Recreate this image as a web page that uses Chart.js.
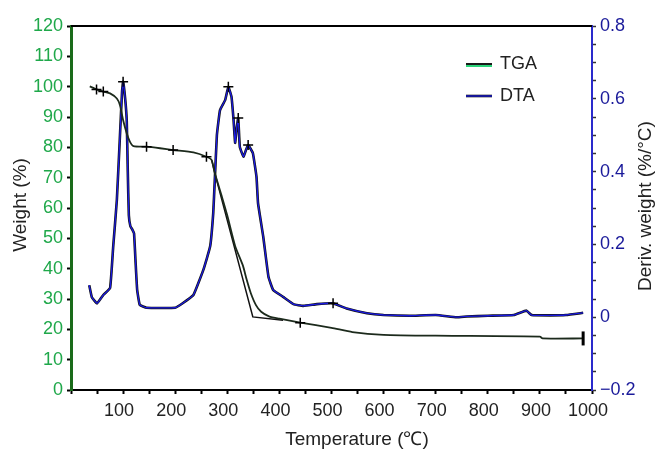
<!DOCTYPE html>
<html>
<head>
<meta charset="utf-8">
<script src="https://cdn.jsdelivr.net/npm/chart.js@4.4.8/dist/chart.umd.min.js"></script>
<style>
  html, body { margin: 0; padding: 0; background: #fff; }
  #wrap { width: 656px; height: 456px; }
</style>
</head>
<body>
<div id="wrap"><canvas id="tg" width="656" height="456"></canvas></div>
<script>
// TGA curve, weight (%) vs temperature (°C)
const tgaTemp   = [36, 49, 62, 75, 88, 94, 100, 107, 113, 120, 145, 171, 196, 235, 260, 270, 276, 290, 300, 315, 330, 337, 345, 355, 365, 380, 400, 440, 500, 540, 600, 700, 900, 905, 983];
const tgaWeight = [100.1, 99.1, 98.4, 97.8, 96.1, 93.9, 89, 84.6, 81.9, 80.4, 80.2, 79.7, 79.1, 78.3, 76.9, 75.8, 71.5, 63.5, 57.5, 47.5, 41, 36.5, 32, 28, 25.8, 24.3, 23.5, 22.2, 20.5, 19.1, 18.2, 17.9, 17.6, 17.0, 17.0];
// straight tangent segment drawn over the main mass loss step
const fitTemp   = [270, 276, 349, 407];
const fitWeight = [75.8, 71.5, 24.1, 23.0];
// DTA curve, deriv. weight (%/°C)
const dtaTemp  = [35, 40, 50, 62, 75, 81, 88, 94, 98, 100, 104, 107, 109, 111, 114, 118, 121, 124, 127, 132, 145, 200, 215, 235, 254, 267, 273, 276, 280, 286, 296, 302, 308, 312, 315, 318, 321, 324, 331, 336, 340, 349, 356, 359, 369, 379, 388, 407, 427, 446, 472, 503, 529, 568, 600, 650, 700, 740, 760, 800, 850, 874, 884, 920, 950, 983];
const dtaDeriv = [0.088, 0.055, 0.038, 0.061, 0.08, 0.194, 0.322, 0.5, 0.62, 0.647, 0.6, 0.54, 0.4, 0.28, 0.25, 0.24, 0.23, 0.15, 0.075, 0.034, 0.026, 0.026, 0.039, 0.061, 0.13, 0.194, 0.286, 0.377, 0.5, 0.569, 0.597, 0.633, 0.606, 0.542, 0.479, 0.52, 0.547, 0.468, 0.441, 0.46, 0.473, 0.451, 0.386, 0.313, 0.221, 0.111, 0.075, 0.056, 0.036, 0.031, 0.036, 0.038, 0.024, 0.011, 0.006, 0.004, 0.006, 0.0, 0.002, 0.004, 0.006, 0.018, 0.006, 0.005, 0.006, 0.012];
// temperatures marked with a '+' on each curve
const tgaMarks = [49, 62, 145, 196, 260, 440];
const dtaMarks = [100, 302, 321, 340, 503];
const tgaEnd = 983;

const FONT = '"Liberation Sans", Arial, Helvetica, sans-serif';

function pts(xs, ys) { return xs.map((x, i) => ({ x: x, y: ys[i] })); }

// draws the axis titles, top border and legend
const decor = {
  id: 'decor',
  afterDraw(chart) {
    const c = chart.ctx;
    const a = chart.chartArea;
    c.save();
    c.strokeStyle = '#000';
    c.lineWidth = 2;
    c.beginPath();
    c.moveTo(a.left, a.top);
    c.lineTo(a.right, a.top);
    c.stroke();

    c.fillStyle = '#222';
    c.font = '19px ' + FONT;
    c.textAlign = 'center';
    c.textBaseline = 'middle';
    c.fillText('Temperature (\u2103)', 357, 440);

    c.save();
    c.translate(21, 205);
    c.rotate(-Math.PI / 2);
    c.fillText('Weight (%)', 0, 0);
    c.restore();

    c.save();
    c.translate(646, 206);
    c.rotate(-Math.PI / 2);
    c.fillText('Deriv. weight (%/\u00b0C)', 0, 0);
    c.restore();

    // legend
    c.font = '18px ' + FONT;
    c.textAlign = 'left';
    c.lineWidth = 2;
    c.strokeStyle = '#2bd47a';
    c.beginPath(); c.moveTo(466, 66); c.lineTo(492, 66); c.stroke();
    c.strokeStyle = '#1a1a1a';
    c.beginPath(); c.moveTo(466, 64); c.lineTo(492, 64); c.stroke();
    c.fillText(chart.data.datasets[0].label, 500, 64);
    c.lineWidth = 2.6;
    c.strokeStyle = '#111';
    c.beginPath(); c.moveTo(466, 96); c.lineTo(492, 96); c.stroke();
    c.lineWidth = 1.3;
    c.strokeStyle = '#1a1ae0';
    c.beginPath(); c.moveTo(466, 96); c.lineTo(492, 96); c.stroke();
    c.fillText(chart.data.datasets[2].label, 500, 96);
    c.restore();
  }
};

function markRadius(marks, ctx) {
  const p = ctx.raw;
  if (!p) return 0;
  if (marks.includes(p.x)) return 5;
  return 0;
}

new Chart(document.getElementById('tg'), {
  type: 'line',
  data: {
    datasets: [
      {
        label: 'TGA',
        data: pts(tgaTemp, tgaWeight),
        yAxisID: 'y',
        borderColor: '#1c2a1c',
        borderWidth: 1.8,
        tension: 0.2,
        pointStyle: ctx => (ctx.raw && ctx.raw.x === tgaEnd) ? 'line' : 'cross',
        rotation: ctx => (ctx.raw && ctx.raw.x === tgaEnd) ? 90 : 0,
        pointRadius: ctx => (ctx.raw && ctx.raw.x === tgaEnd) ? 7 : markRadius(tgaMarks, ctx),
        pointBorderColor: '#000',
        pointBorderWidth: ctx => (ctx.raw && ctx.raw.x === tgaEnd) ? 3 : 1.5,
        order: 1
      },
      {
        label: 'TGA fit',
        data: pts(fitTemp, fitWeight),
        yAxisID: 'y',
        borderColor: '#111',
        borderWidth: 1.5,
        pointRadius: 0,
        order: 2
      },
      {
        label: 'DTA',
        data: pts(dtaTemp, dtaDeriv),
        yAxisID: 'y1',
        borderColor: '#1a1ae0',
        borderWidth: 1.3,
        tension: 0.1,
        pointStyle: 'cross',
        pointRadius: ctx => markRadius(dtaMarks, ctx),
        pointBorderColor: '#000',
        pointBorderWidth: 1.5,
        order: 3
      },
      {
        label: 'DTA outline',
        data: pts(dtaTemp, dtaDeriv),
        yAxisID: 'y1',
        borderColor: '#111',
        borderWidth: 2.6,
        tension: 0.1,
        pointRadius: 0,
        order: 4
      }
    ]
  },
  options: {
    responsive: false,
    animation: false,
    layout: { padding: { top: 26, left: 0, right: 0, bottom: 0 } },
    plugins: {
      legend: { display: false },
      tooltip: { enabled: false }
    },
    scales: {
      x: {
        type: 'linear',
        min: 0,
        max: 1000,
        afterFit: s => { s.height = 66; },
        border: { color: '#000', width: 2 },
        grid: { drawOnChartArea: false, tickLength: 4, color: '#000', tickWidth: 2 },
        ticks: {
          stepSize: 50,
          autoSkip: false,
          maxRotation: 0,
          padding: 6,
          labelOffset: -4,
          color: '#222',
          font: { family: FONT, size: 18 },
          callback: v => (v > 0 && v % 100 === 0) ? String(v) : ''
        }
      },
      y: {
        position: 'left',
        min: 0,
        max: 120,
        afterFit: s => { s.width = 71; },
        border: { color: '#1a6b1a', width: 3 },
        grid: { drawOnChartArea: false, tickLength: 4, color: '#000', tickWidth: 2 },
        ticks: {
          stepSize: 10,
          padding: 4,
          color: '#1fa84a',
          font: { family: FONT, size: 18 }
        }
      },
      y1: {
        position: 'right',
        min: -0.2,
        max: 0.8,
        afterFit: s => { s.width = 64; },
        border: { color: '#2a2acc', width: 2 },
        grid: { drawOnChartArea: false, tickLength: 4, color: '#333', tickWidth: 1.5 },
        ticks: {
          stepSize: 0.05,
          autoSkip: false,
          padding: 4,
          color: '#1a1a9a',
          font: { family: FONT, size: 18 },
          callback: v => {
            const k = v / 0.2;
            if (Math.abs(k - Math.round(k)) > 1e-6) return '';
            const r = Math.round(k) * 0.2;
            if (Math.abs(r) < 1e-9) return '0';
            return r < 0 ? '\u2212' + Math.abs(r).toFixed(1) : r.toFixed(1);
          }
        }
      }
    }
  },
  plugins: [decor]
});
</script>
</body>
</html>
